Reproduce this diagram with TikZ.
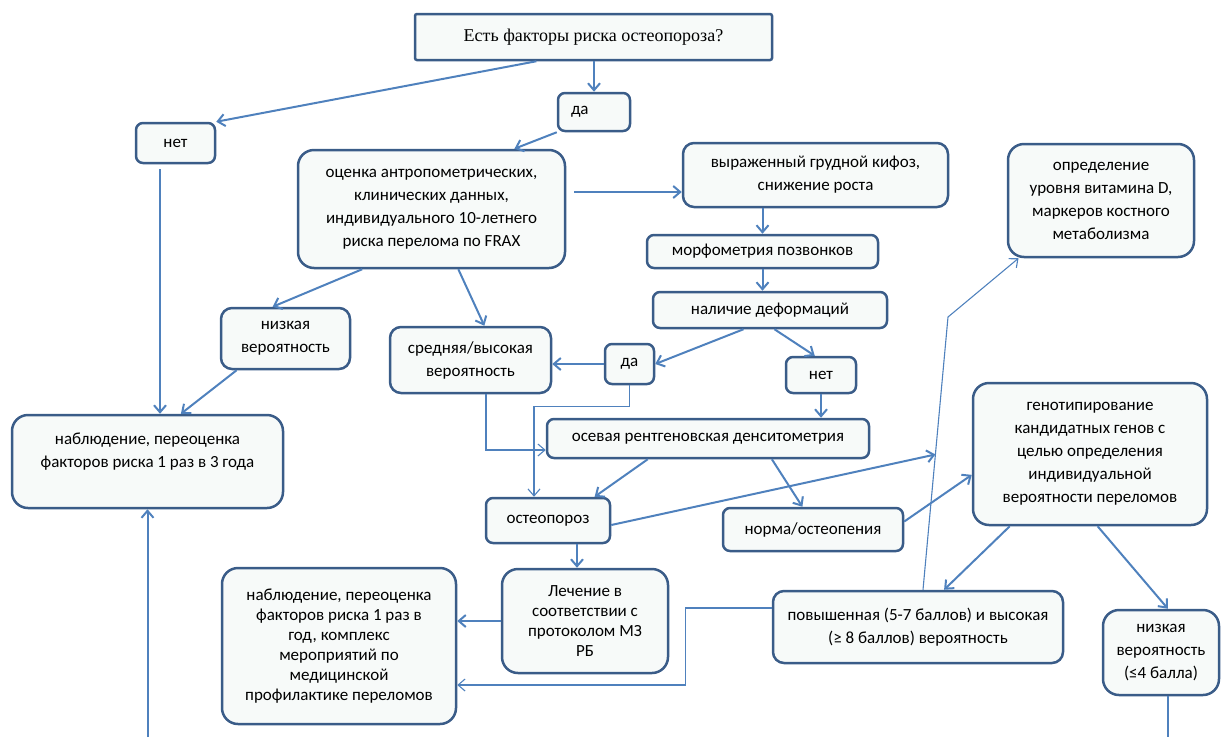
\documentclass[tikz,border=0pt]{standalone}
\usepackage{fontspec}
\setmainfont{Carlito}
\newfontfamily\titlefont{Liberation Serif}
\usetikzlibrary{arrows.meta}

\definecolor{boxEdge}{RGB}{58,92,136}
\definecolor{boxFill}{RGB}{247,250,249}
\definecolor{lineBlue}{RGB}{79,129,189}

\begin{document}
\begin{tikzpicture}
[x=1pt,y=-1pt,
  darkArrow/.style={->,>={Straight Barb[length=7pt,width=12pt]},line width=2pt,color=lineBlue},%
  darkLine/.style={line width=2pt,color=lineBlue},%
  thinArrow/.style={->,>={Straight Barb[length=7pt,width=12pt]},line width=1.1pt,color=lineBlue},%
  boxDecorate/.style={shape=rectangle,draw=boxEdge,fill=boxFill,line width=2.5pt,
    inner sep=0pt,align=center,font=\fontsize{17}{23}\selectfont},%
  boxSize/.style 2 args={minimum width=#1pt,minimum height=#2pt},%
  smallBox/.style={boxDecorate,rounded corners=7pt},%
  midBox/.style={boxDecorate,rounded corners=11pt},%
  bigBox/.style={boxDecorate,rounded corners=16pt}]
\useasboundingbox (0,0) rectangle (1221,737);
\coordinate (pageBottom) at (147,737);
\coordinate (vbend) at (948,317);

%% question and first answers
\node (top) at (593.5,37) [boxDecorate,rounded corners=2pt,boxSize={357}{46},
  font=\titlefont\fontsize{18}{22}\selectfont] {Есть факторы риска остеопороза?};
\node (da1) at (594,112) [smallBox,boxSize={72}{38},align=left,text width=46pt] {да};
\node (net1) at (175.5,143) [smallBox,boxSize={79}{40}] {нет};

%% risk assessment
\node (assess) at (431.5,209) [bigBox,boxSize={267}{118}]
  {оценка антропометрических,\\клинических данных,\\индивидуального 10-летнего\\риска перелома по FRAX};
\node (kyph) at (815.5,175) [midBox,boxSize={265}{64}] {выраженный грудной кифоз,\\снижение роста};
\node (vitd) at (1101,200.5) [bigBox,boxSize={186}{113}]
  {определение\\уровня витамина D,\\маркеров костного\\метаболизма};
\node (morph) at (762.5,251.5) [smallBox,boxSize={231}{33}] {морфометрия позвонков};
\node (deform) at (770,310) [smallBox,boxSize={234}{36}] {наличие деформаций};
\node (low1) at (285.5,338.5) [midBox,boxSize={129}{61}] {низкая\\вероятность};
\node (medhigh) at (470.5,360) [midBox,boxSize={161}{66}] {средняя/высокая\\вероятность};
\node (da2) at (629.5,364) [smallBox,boxSize={49}{40}] {да};
\node (net2) at (821,375) [smallBox,boxSize={70}{36}] {нет};

%% densitometry and results
\node (dxa) at (708,438.5) [smallBox,boxSize={322}{39}] {осевая рентгеновская денситометрия};
\node (geno) at (1090,454) [bigBox,boxSize={234}{142}]
  {генотипирование\\кандидатных генов с\\целью определения\\индивидуальной\\вероятности переломов};
\node (obs1) at (147.5,461.5) [bigBox,boxSize={271}{93}]
  {наблюдение, переоценка\\факторов риска 1 раз в 3 года\\ \mbox{}};
\node (osteo) at (548,520.5) [smallBox,boxSize={124}{45}] {остеопороз};
\node (norm) at (813,529.5) [smallBox,boxSize={180}{43}] {норма/остеопения};
\node (treat) at (585,621) [bigBox,boxSize={166}{104},font=\fontsize{17}{20}\selectfont]
  {Лечение в\\соответствии с\\протоколом МЗ\\РБ};
\node (obs2) at (339,646) [bigBox,boxSize={234}{156},font=\fontsize{17}{20}\selectfont]
  {наблюдение, переоценка\\факторов риска 1 раз в\\год, комплекс\\мероприятий по\\медицинской\\профилактике переломов};
\node (high) at (918,627) [midBox,boxSize={290}{72}]
  {повышенная (5-7 баллов) и высокая\\(≥ 8 баллов) вероятность};
\node (low2) at (1161,652.5) [bigBox,boxSize={116}{85}] {низкая\\вероятность\\(≤4 балла)};

%% straight arrows
\path
\foreach \startnode/\endnode in {top.-157/net1.north east, da1.south west/assess.36,
  assess.-139/low1.112, assess.-66/medhigh.68, low1.-147/obs1.55,
  deform.-144/da2.east, deform.-77/net2.108, dxa.-161/osteo.27, dxa.-18/norm.115,
  norm.5/geno.-170, geno.-138/high.55, geno.-84/low2.81}
{
  (\startnode) edge[darkArrow] (\endnode)
};

%% vertical and horizontal arrows
\draw[darkArrow] (da1.north |- top.south) -- (da1.north);
\draw[darkArrow] ([xshift=-15.5pt,yshift=-5pt]net1.south) coordinate (netdrop) -- (netdrop |- obs1.north);
\draw[darkArrow] ([xshift=8pt,yshift=17pt]assess.east) coordinate (assessout) -- (assessout -| kyph.west);
\draw[darkArrow] (morph.north |- kyph.south) -- (morph.north);
\draw[darkArrow] (morph.south) -- (morph.south |- deform.north);
\draw[darkArrow] (da2.west) -- (da2.west -| medhigh.east);
\draw[darkArrow] (net2.south) -- (net2.south |- dxa.north);
\draw[darkArrow] ([xshift=-8pt]treat.north |- osteo.south) -- ([xshift=-8pt]treat.north);
\draw[darkArrow] (treat.west) -- (treat.west -| obs2.east);
\draw[darkArrow] (obs1.south |- pageBottom) -- (obs1.south);
\draw[darkLine] ([xshift=7pt]low2.south) coordinate (lowdrop) -- (lowdrop |- pageBottom);

%% thin elbow lines
\draw[thinArrow] ([xshift=15.5pt]medhigh.south) |- ([yshift=-11.5pt]dxa.west);
\draw[thinArrow] (da2.south) -- ++(0,21) -| ([xshift=-14pt]osteo.north);
\draw[thinArrow] ([yshift=19pt]high.west) -- ++(-86,0) |- ([yshift=-39pt]obs2.east);
\draw[thinArrow] ([xshift=5pt]high.north) -- coordinate[pos=0.496] (osteohit) (vbend) -- (vitd.-145);
\draw[darkArrow] ([yshift=-4.5pt]osteo.east) -- (osteohit);
\end{tikzpicture}
\end{document}
